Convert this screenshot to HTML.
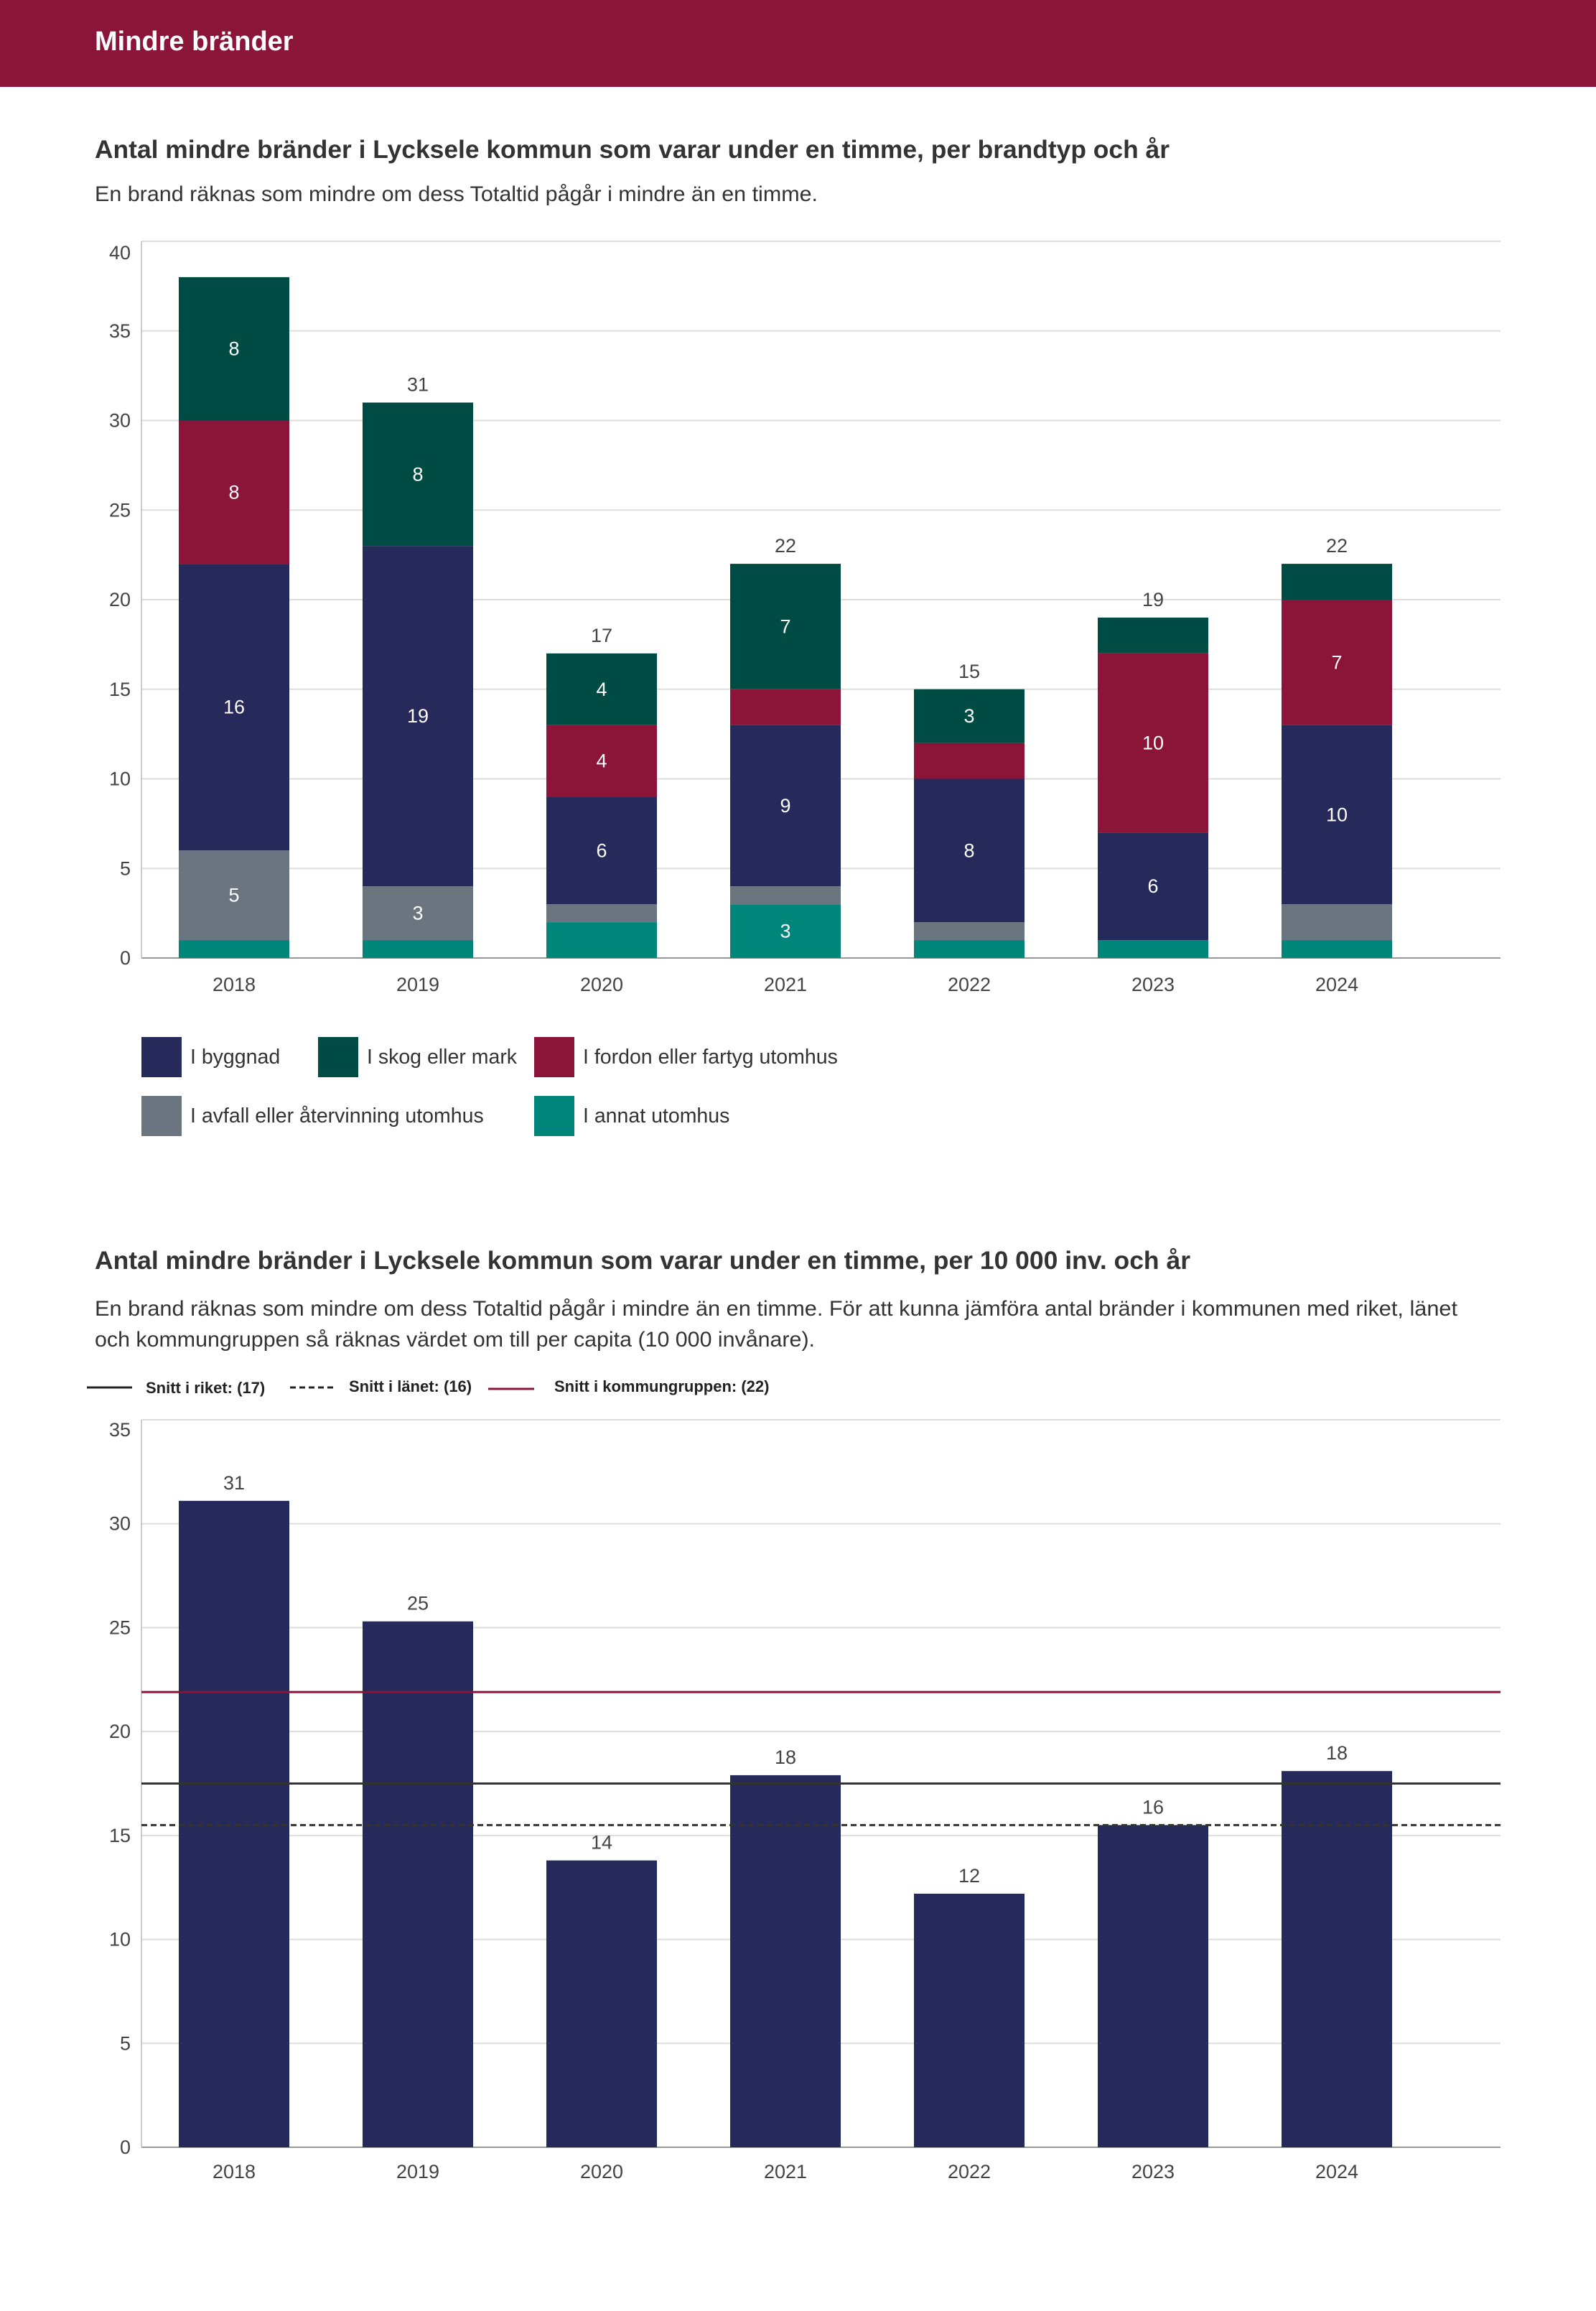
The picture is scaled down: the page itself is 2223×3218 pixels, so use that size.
<!DOCTYPE html>
<html><head><meta charset="utf-8">
<style>
html,body{margin:0;padding:0;background:#fff;}
body{width:2223px;height:3213px;overflow:hidden;font-family:"Liberation Sans",sans-serif;}
svg text{font-family:"Liberation Sans",sans-serif;}
</style></head>
<body>
<svg id="page" width="2223" height="3213" viewBox="0 0 2223 3213" xmlns="http://www.w3.org/2000/svg">
  <rect x="0" y="0" width="2223" height="121" fill="#8a1538"/>
  <text x="132" y="70" font-size="38" font-weight="bold" fill="#fff">Mindre bränder</text>

  <text x="132" y="220" font-size="35" font-weight="bold" fill="#333" textLength="1497" lengthAdjust="spacingAndGlyphs">Antal mindre bränder i Lycksele kommun som varar under en timme, per brandtyp och år</text>
  <text x="132" y="280" font-size="30" fill="#333" textLength="1007" lengthAdjust="spacingAndGlyphs">En brand räknas som mindre om dess Totaltid pågår i mindre än en timme.</text>
  <g id="chart1"></g>
  <g id="legend1"></g>

  <text x="132" y="1767" font-size="35" font-weight="bold" fill="#333" textLength="1526" lengthAdjust="spacingAndGlyphs">Antal mindre bränder i Lycksele kommun som varar under en timme, per 10 000 inv. och år</text>
  <text x="132" y="1832" font-size="30" fill="#333" textLength="1898" lengthAdjust="spacingAndGlyphs">En brand räknas som mindre om dess Totaltid pågår i mindre än en timme. För att kunna jämföra antal bränder i kommunen med riket, länet</text>
  <text x="132" y="1875" font-size="30" fill="#333" textLength="1003" lengthAdjust="spacingAndGlyphs">och kommungruppen så räknas värdet om till per capita (10 000 invånare).</text>
  <g id="legend2">
    <line x1="121" y1="1932" x2="184" y2="1932" stroke="#222" stroke-width="3"/>
    <text x="203" y="1940" font-size="22" font-weight="bold" fill="#222">Snitt i riket: (17)</text>
    <line x1="404" y1="1932" x2="465" y2="1932" stroke="#222" stroke-width="3" stroke-dasharray="8,5"/>
    <text x="486" y="1938" font-size="22" font-weight="bold" fill="#222">Snitt i länet: (16)</text>
    <line x1="680" y1="1934" x2="744" y2="1934" stroke="#8a1538" stroke-width="3"/>
    <text x="772" y="1938" font-size="22" font-weight="bold" fill="#222">Snitt i kommungruppen: (22)</text>
  </g>
  <g id="chart2"></g>
</svg>
<script>
const years = ["2018","2019","2020","2021","2022","2023","2024"];
const annat = [1,1,2,3,1,1,1];
const avfall = [5,3,1,1,1,0,2];
const byggnad = [16,19,6,9,8,6,10];
const fordon = [8,0,4,2,2,10,7];
const skog = [8,8,4,7,3,2,2];
const yTicks1 = [0,5,10,15,20,25,30,35,40];
const seriesNames = ["I annat utomhus","I avfall eller återvinning utomhus","I byggnad","I fordon eller fartyg utomhus","I skog eller mark"];

const perCapita = [31.1,25.3,13.8,17.9,12.2,15.5,18.1];
const perCapitaLabels = ["31","25","14","18","12","16","18"];
const yTicks2 = [0,5,10,15,20,25,30,35];
const avgRiket = [17.5];
const avgLanet = [15.5];
const avgKommungrupp = [21.9];

const NS = "http://www.w3.org/2000/svg";
function mk(tag, attrs, parent){const e=document.createElementNS(NS,tag);for(const k in attrs)e.setAttribute(k,attrs[k]);parent.appendChild(e);return e;}

const L=197, R=2090, step=256, firstC=326, bw=154;
function xc(i){return firstC+step*i;}

// Chart 1
(function(){
  const g=document.getElementById('chart1');
  const top=336, bot=1334, max=40;
  const y=v=>bot-(bot-top)*v/max;
  yTicks1.forEach(t=>{
    const ln=mk('line',{x1:L,x2:R,y1:y(t),y2:y(t),stroke:t===0?'#999':'#ddd','stroke-width':2},g);
    
    
    const tx=mk('text',{x:182,y:y(t)+9+(t===max?16:0),'text-anchor':'end','font-size':27,fill:'#444'},g);
    tx.textContent=t;
    
    
  });
  const ax=mk('line',{x1:L,x2:L,y1:top,y2:bot,stroke:'#ccc','stroke-width':2},g);
  
  
  const series=[annat,avfall,byggnad,fordon,skog];
  const colors=['#00857a','#6b7580','#252a5a','#8a1538','#004c45'];
  const keys=['annat','avfall','byggnad','fordon','skog'];
  years.forEach((yr,i)=>{
    let cum=0;
    series.forEach((s,k)=>{
      const v=s[i];
      if(v>0){
        const r=mk('rect',{x:xc(i)-bw/2,y:y(cum+v),width:bw,height:y(cum)-y(cum+v),fill:colors[k]},g);
        
        
        if(v>=3){
          const t=mk('text',{x:xc(i),y:(y(cum)+y(cum+v))/2+9,'text-anchor':'middle','font-size':27,fill:'#fff'},g);
          t.textContent=v;
          
          
        }
      }
      cum+=v;
    });
    if(max-cum>=3){
      const t=mk('text',{x:xc(i),y:y(cum)-16,'text-anchor':'middle','font-size':27,fill:'#444'},g);
      t.textContent=cum;
      
      
    }
    const xl=mk('text',{x:xc(i),y:1380,'text-anchor':'middle','font-size':27,fill:'#444'},g);
    xl.textContent=yr;
    
    
  });
  // legend
  const lg=document.getElementById('legend1');
  const items=[[2,197,1444],[4,443,1444],[3,744,1444],[1,197,1526],[0,744,1526]];
  items.forEach(([k,x,yy])=>{
    const r=mk('rect',{x:x,y:yy,width:56,height:56,fill:colors[k]},lg);
    
    
    const t=mk('text',{x:x+68,y:yy+37,'font-size':28.5,fill:'#333'},lg);
    t.textContent=seriesNames[k];
    
    
  });
})();

// Chart 2
(function(){
  const g=document.getElementById('chart2');
  const top=1977, bot=2990, max=35;
  const y=v=>bot-(bot-top)*v/max;
  yTicks2.forEach(t=>{
    const ln=mk('line',{x1:L,x2:R,y1:y(t),y2:y(t),stroke:t===0?'#999':'#ddd','stroke-width':2},g);
    
    
    const tx=mk('text',{x:182,y:y(t)+9+(t===max?14:0),'text-anchor':'end','font-size':27,fill:'#444'},g);
    tx.textContent=t;
    
    
  });
  const ax=mk('line',{x1:L,x2:L,y1:top,y2:bot,stroke:'#ccc','stroke-width':2},g);
  
  
  years.forEach((yr,i)=>{
    const v=perCapita[i];
    const r=mk('rect',{x:xc(i)-bw/2,y:y(v),width:bw,height:bot-y(v),fill:'#252a5a'},g);
    
    
    const t=mk('text',{x:xc(i),y:y(v)-16,'text-anchor':'middle','font-size':27,fill:'#444'},g);
    t.textContent=perCapitaLabels[i];
    
    
    const xl=mk('text',{x:xc(i),y:3033,'text-anchor':'middle','font-size':27,fill:'#444'},g);
    xl.textContent=yr;
    
    
  });
  const l1=mk('line',{x1:L,x2:R,y1:y(avgKommungrupp[0]),y2:y(avgKommungrupp[0]),stroke:'#8a1538','stroke-width':3},g);
  
  
  const l2=mk('line',{x1:L,x2:R,y1:y(avgRiket[0]),y2:y(avgRiket[0]),stroke:'#333','stroke-width':3},g);
  
  
  const l3=mk('line',{x1:L,x2:R,y1:y(avgLanet[0]),y2:y(avgLanet[0]),stroke:'#333','stroke-width':3,'stroke-dasharray':'8,5'},g);
  
  
})();
</script>
</body></html>
